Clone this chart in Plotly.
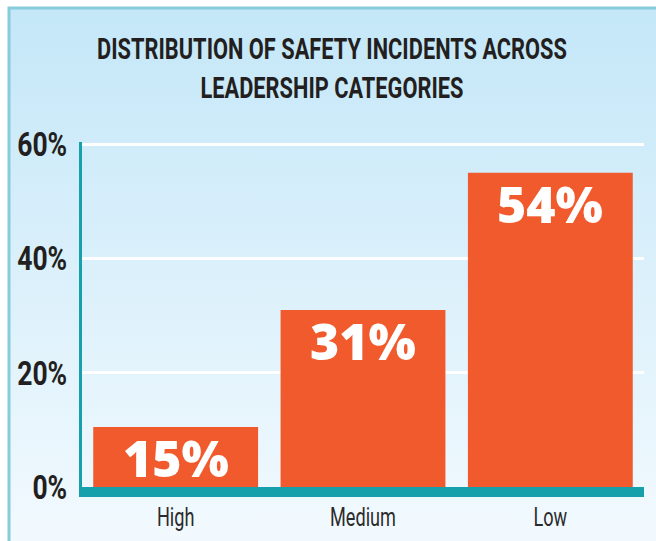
import base64
import plotly.graph_objects as go

categories = ["High", "Medium", "Low"]
bar_values = [10.5, 31, 55]
bar_labels = ["15%", "31%", "54%"]
y_ticks = [0, 20, 40, 60]
y_tick_labels = ["0%", "20%", "40%", "60%"]

W, H = 656, 541
L, R, T, B = 82, 12, 142, 54
PW, PH = W - L - R, H - T - B

COND = "Roboto, DejaVu Sans, sans-serif"

svg = (
    "<svg xmlns='http://www.w3.org/2000/svg' width='656' height='541'>"
    "<defs><linearGradient id='g' x1='0' y1='0' x2='0' y2='1'>"
    "<stop offset='0' stop-color='#C4E7F8'/><stop offset='1' stop-color='#F8FCFF'/>"
    "</linearGradient></defs>"
    "<rect x='0' y='0' width='656' height='541' fill='white'/>"
    "<rect x='9' y='8' width='700' height='600' fill='url(#g)' stroke='#86CCDA' stroke-width='3'/>"
    "</svg>"
)
src = "data:image/svg+xml;base64," + base64.b64encode(svg.encode()).decode()

fig = go.Figure()
fig.add_trace(go.Bar(
    x=categories, y=bar_values,
    marker=dict(color="#F15A2C", line=dict(width=0)),
    hoverinfo="skip",
))

for c, v, t in zip(categories, bar_values, bar_labels):
    fig.add_annotation(
        x=c, y=v, text=t, showarrow=False, yanchor="top", yshift=5,
        font=dict(family="Open Sans", size=50, color="white", weight=800),
    )

fig.update_layout(
    width=W, height=H,
    margin=dict(l=L, r=R, t=T, b=B, pad=0, autoexpand=False),
    paper_bgcolor="white",
    plot_bgcolor="rgba(0,0,0,0)",
    showlegend=False,
    bargap=0.12,
    title=dict(
        text="DISTRIBUTION OF SAFETY INCIDENTS ACROSS<br>LEADERSHIP CATEGORIES",
        font=dict(family=COND, size=30, color="#231F20", weight="bold"),
        x=332 / W, xanchor="center", xref="container",
        y=1 - 59 / H, yanchor="top", yref="container",
    ),
    images=[dict(
        source=src, xref="paper", yref="paper",
        x=-L / PW, y=1 + T / PH, sizex=W / PW, sizey=H / PH,
        xanchor="left", yanchor="top", sizing="stretch", layer="below",
    )],
    xaxis=dict(
        showline=True, linecolor="#16A0AC", linewidth=10,
        showgrid=False, zeroline=False, automargin=False,
        tickfont=dict(family=COND, size=25, color="#2B2B2B"),
        ticks="", ticklabelstandoff=-1,
    ),
    yaxis=dict(
        range=[0, 60.4], tickvals=y_ticks, ticktext=y_tick_labels,
        showline=True, linecolor="#16A0AC", linewidth=3,
        showgrid=True, gridcolor="white", gridwidth=3,
        zeroline=False, automargin=False,
        tickfont=dict(family=COND, size=34, color="#231F20", weight="bold"),
        ticks="", ticklabelstandoff=5,
    ),
)

post = r"""
document.body.style.margin = '0';
var gd = document.getElementById('{plot_id}');
function squeeze(el, ax, s) {
  var t = el.getAttribute('transform') || '';
  if (t.indexOf('scale(') >= 0) return;
  el.setAttribute('transform', t + ' translate(' + ax + ',0) scale(' + s + ',1) translate(' + (-ax) + ',0)');
}
function condense() {
  try {
    var tt = gd.querySelector('.gtitle');
    if (tt && (tt.getAttribute('transform') || '').indexOf('scale(') < 0) {
      var w = tt.getBBox().width;
      if (w > 0) squeeze(tt, parseFloat(tt.getAttribute('x')), 470 / w);
    }
    var yl = gd.querySelectorAll('.ytick text');
    var ys = 1, wy = 0;
    yl.forEach(function (el) { wy = Math.max(wy, el.getBBox().width); });
    if (wy > 0) ys = 50 / wy;
    yl.forEach(function (el) { squeeze(el, parseFloat(el.getAttribute('x')) || 0, ys); });
    var xl = gd.querySelectorAll('.xtick text');
    var xs = 1, wx = 0;
    xl.forEach(function (el) { wx = Math.max(wx, el.getBBox().width); });
    if (wx > 0) xs = 66 / wx;
    xl.forEach(function (el) { squeeze(el, parseFloat(el.getAttribute('x')) || 0, xs); });
  } catch (e) {}
}
condense();
gd.on('plotly_afterplot', condense);
"""

fig.write_html("out.html", post_script=post, config={"displayModeBar": False})
